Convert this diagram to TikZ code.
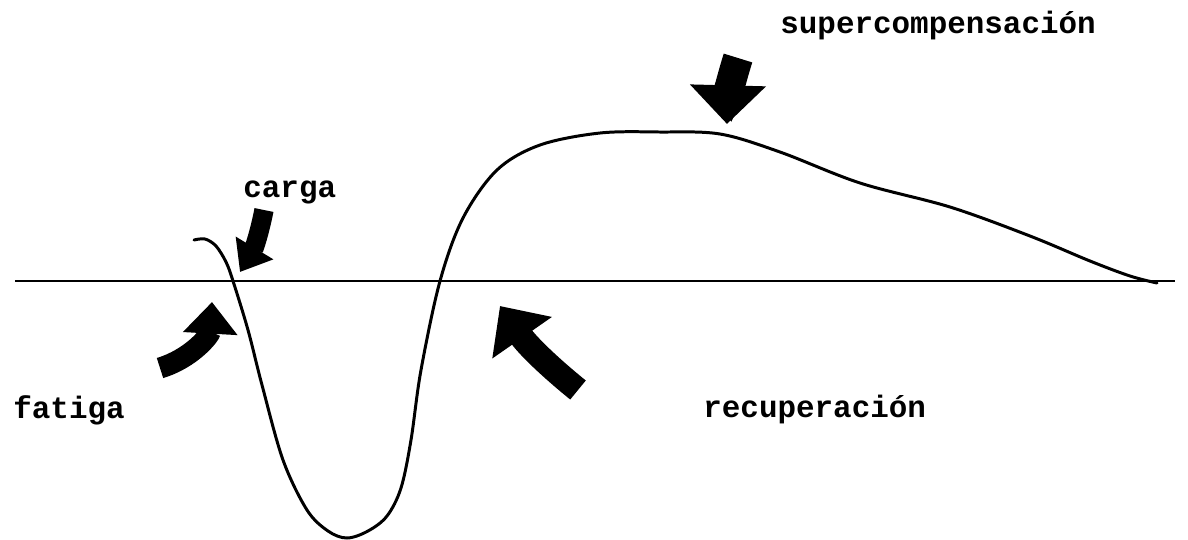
\documentclass[tikz,border=0pt]{standalone}
\usepackage{fontspec}
\newfontfamily\typefont{Liberation Mono}
\usetikzlibrary{arrows.meta}

\begin{document}
\begin{tikzpicture}[
  x=0.02cm, y=-0.02cm,
  label/.style={anchor=base west, inner sep=0pt, font=\typefont\bfseries\fontsize{17.6}{20}\selectfont},
  pointer/.style n args={3}{line width=#1, -{Triangle[length=#2, width=#3]}},
]
\useasboundingbox (0,0) rectangle (1188,539);

% base line
\draw[line width=1.1pt] (15,281) -- (1175,281);

% response curve
\draw[line width=1.7pt, line cap=round] plot[smooth, tension=0.55] coordinates {
  (194,240) (205,239) (216,246) (226,262) (233,281) (248,330) (262,385)
  (283,460) (307,510) (328,531) (347,538) (368,531) (387,516) (401,488)
  (411,440) (421,370) (440,281) (463,218) (497,170) (540,145) (600,133)
  (660,132) (720,134) (780,152) (860,183) (950,207) (1030,236) (1090,261)
  (1130,276) (1157,283)};

% labels
\node[label] (carga) at (243,197) {carga};
\node[label] (fatiga) at (13,418) {fatiga};
\node[label] (recup) at (703,417) {recuperación};
\node[label] (super) at (780,33) {supercompensación};

% pointers
\coordinate (cargaT) at (264,210);
\coordinate (cargaH) at (240,272);
\coordinate (fatigaT) at (160,368);
\coordinate (fatigaH) at (212,302);
\coordinate (recupT) at (578,390);
\coordinate (recupH) at (500,306);
\coordinate (superT) at (738,58);
\coordinate (superH) at (727,124);

\draw[pointer={11pt}{16pt}{24pt}] (cargaT) to[bend left=10] (cargaH);
\draw[pointer={12pt}{18pt}{30pt}] (fatigaT) to[bend right=35] (fatigaH);
\draw[pointer={14pt}{22pt}{40pt}] (recupT) to[bend left=8] (recupH);
\draw[pointer={17pt}{22pt}{42pt}] (superT) to[bend right=8] (superH);
\end{tikzpicture}
\end{document}
